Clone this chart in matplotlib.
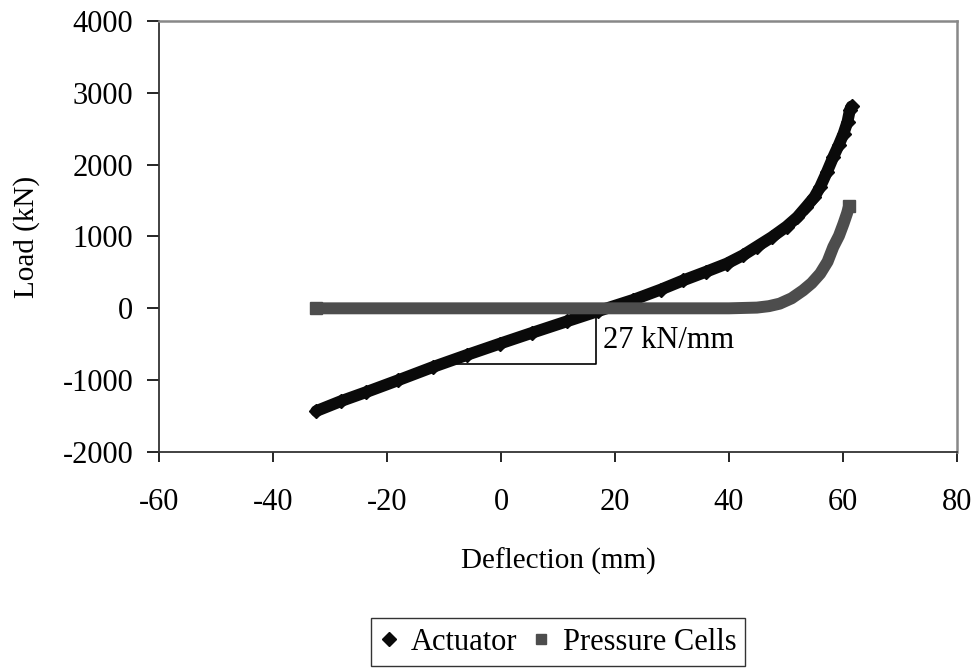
import numpy as np
import matplotlib
matplotlib.use("Agg")
import matplotlib.pyplot as plt
from matplotlib.lines import Line2D

plt.rcParams["font.family"] = ["Liberation Serif", "DejaVu Serif"]
plt.rcParams["font.size"] = 22
plt.rcParams["axes.unicode_minus"] = False

# Actuator load vs deflection
act_x = [-32.4, -28.0, -23.6, -18.0, -11.9, -6.0, -0.2, 5.5, 11.5, 17.0,
         23.2, 28.0, 32.0, 36.0, 39.6, 42.5, 44.9, 47.5, 50.1, 52.0,
         53.6, 55.0, 56.0, 57.2, 58.3, 59.3, 60.1, 60.8, 61.2, 61.5]
act_y = [-1430, -1290, -1165, -1000, -816, -650, -492, -340, -183, -40,
         118, 260, 390, 510, 622, 740, 860, 990, 1138, 1270,
         1417, 1550, 1690, 1900, 2107, 2280, 2432, 2600, 2757, 2810]

# Pressure cell load vs deflection
pc_x = [-32.5, -20, -10, 0, 10, 20, 30, 40, 44.9, 47.0, 48.9, 51.0,
        53.0, 54.5, 56.0, 57.3, 58.3, 59.3, 60.1, 60.7, 61.1]
pc_y = [0, 0, 0, 0, 0, 0, 0, 0, 10, 30, 65, 140,
        250, 350, 483, 650, 854, 1010, 1180, 1320, 1430]

# stiffness triangle (kN/mm annotation)
tri_x = [-11.0, 16.6, 16.6]
tri_y = [-780, -780, -60]
slope_label = "27 kN/mm"

x_ticks = [-60, -40, -20, 0, 20, 40, 60, 80]
y_ticks = [-2000, -1000, 0, 1000, 2000, 3000, 4000]

act_color = "#0a0a0a"
pc_color = "#4d4d4d"

fig = plt.figure(figsize=(9.77, 6.69), dpi=100)
ax = fig.add_axes([0.1627, 0.3244, 0.8168, 0.6442])

ax.plot(tri_x, tri_y, color="black", lw=1.2, zorder=1)
ax.plot(act_x, act_y, color=act_color, lw=8.5, solid_capstyle="round",
        zorder=2)
ax.plot(act_x, act_y, color=act_color, lw=0, marker="D", ms=7.5, zorder=2)
ax.plot(pc_x, pc_y, color=pc_color, lw=8.6, solid_capstyle="butt", zorder=3)
ax.plot(pc_x[:1] + pc_x[-1:], pc_y[:1] + pc_y[-1:], color=pc_color, lw=0,
        marker="s", ms=8.6, zorder=3)
ax.text(17.9, -445, slope_label, va="center", ha="left", fontsize=22)

ax.set_xlim(-60, 80)
ax.set_ylim(-2000, 4000)
ax.set_xticks(x_ticks)
ax.set_yticks(y_ticks)
ax.tick_params(axis="x", direction="out", length=7, width=1.2, pad=19)
ax.tick_params(axis="y", direction="out", length=8.5, width=1.2, pad=10)

for s in ["left", "bottom"]:
    ax.spines[s].set_color("#333333")
    ax.spines[s].set_linewidth(1.3)
for s in ["top", "right"]:
    ax.spines[s].set_color("#888888")
    ax.spines[s].set_linewidth(1.8)

fig.text(27 / 977, 1 - 237 / 669, "Load (kN)", rotation=90,
         ha="center", va="center", fontsize=21)
fig.text(558 / 977, 1 - 561 / 669, "Deflection (mm)",
         ha="center", va="center", fontsize=21)

handles = [
    Line2D([], [], color=act_color, marker="D", ms=7, lw=0),
    Line2D([], [], color=pc_color, marker="s", ms=7, lw=0),
]
leg = fig.legend(handles, ["Actuator", "Pressure Cells"], loc="center",
                 bbox_to_anchor=(558 / 977, 1 - 642 / 669), ncol=2,
                 frameon=True, fancybox=False, edgecolor="black",
                 handlelength=0.6, handletextpad=0.4, columnspacing=0.5,
                 borderpad=0.3, fontsize=22)
leg.get_frame().set_linewidth(1.0)

fig.savefig("out.png", dpi=100)
